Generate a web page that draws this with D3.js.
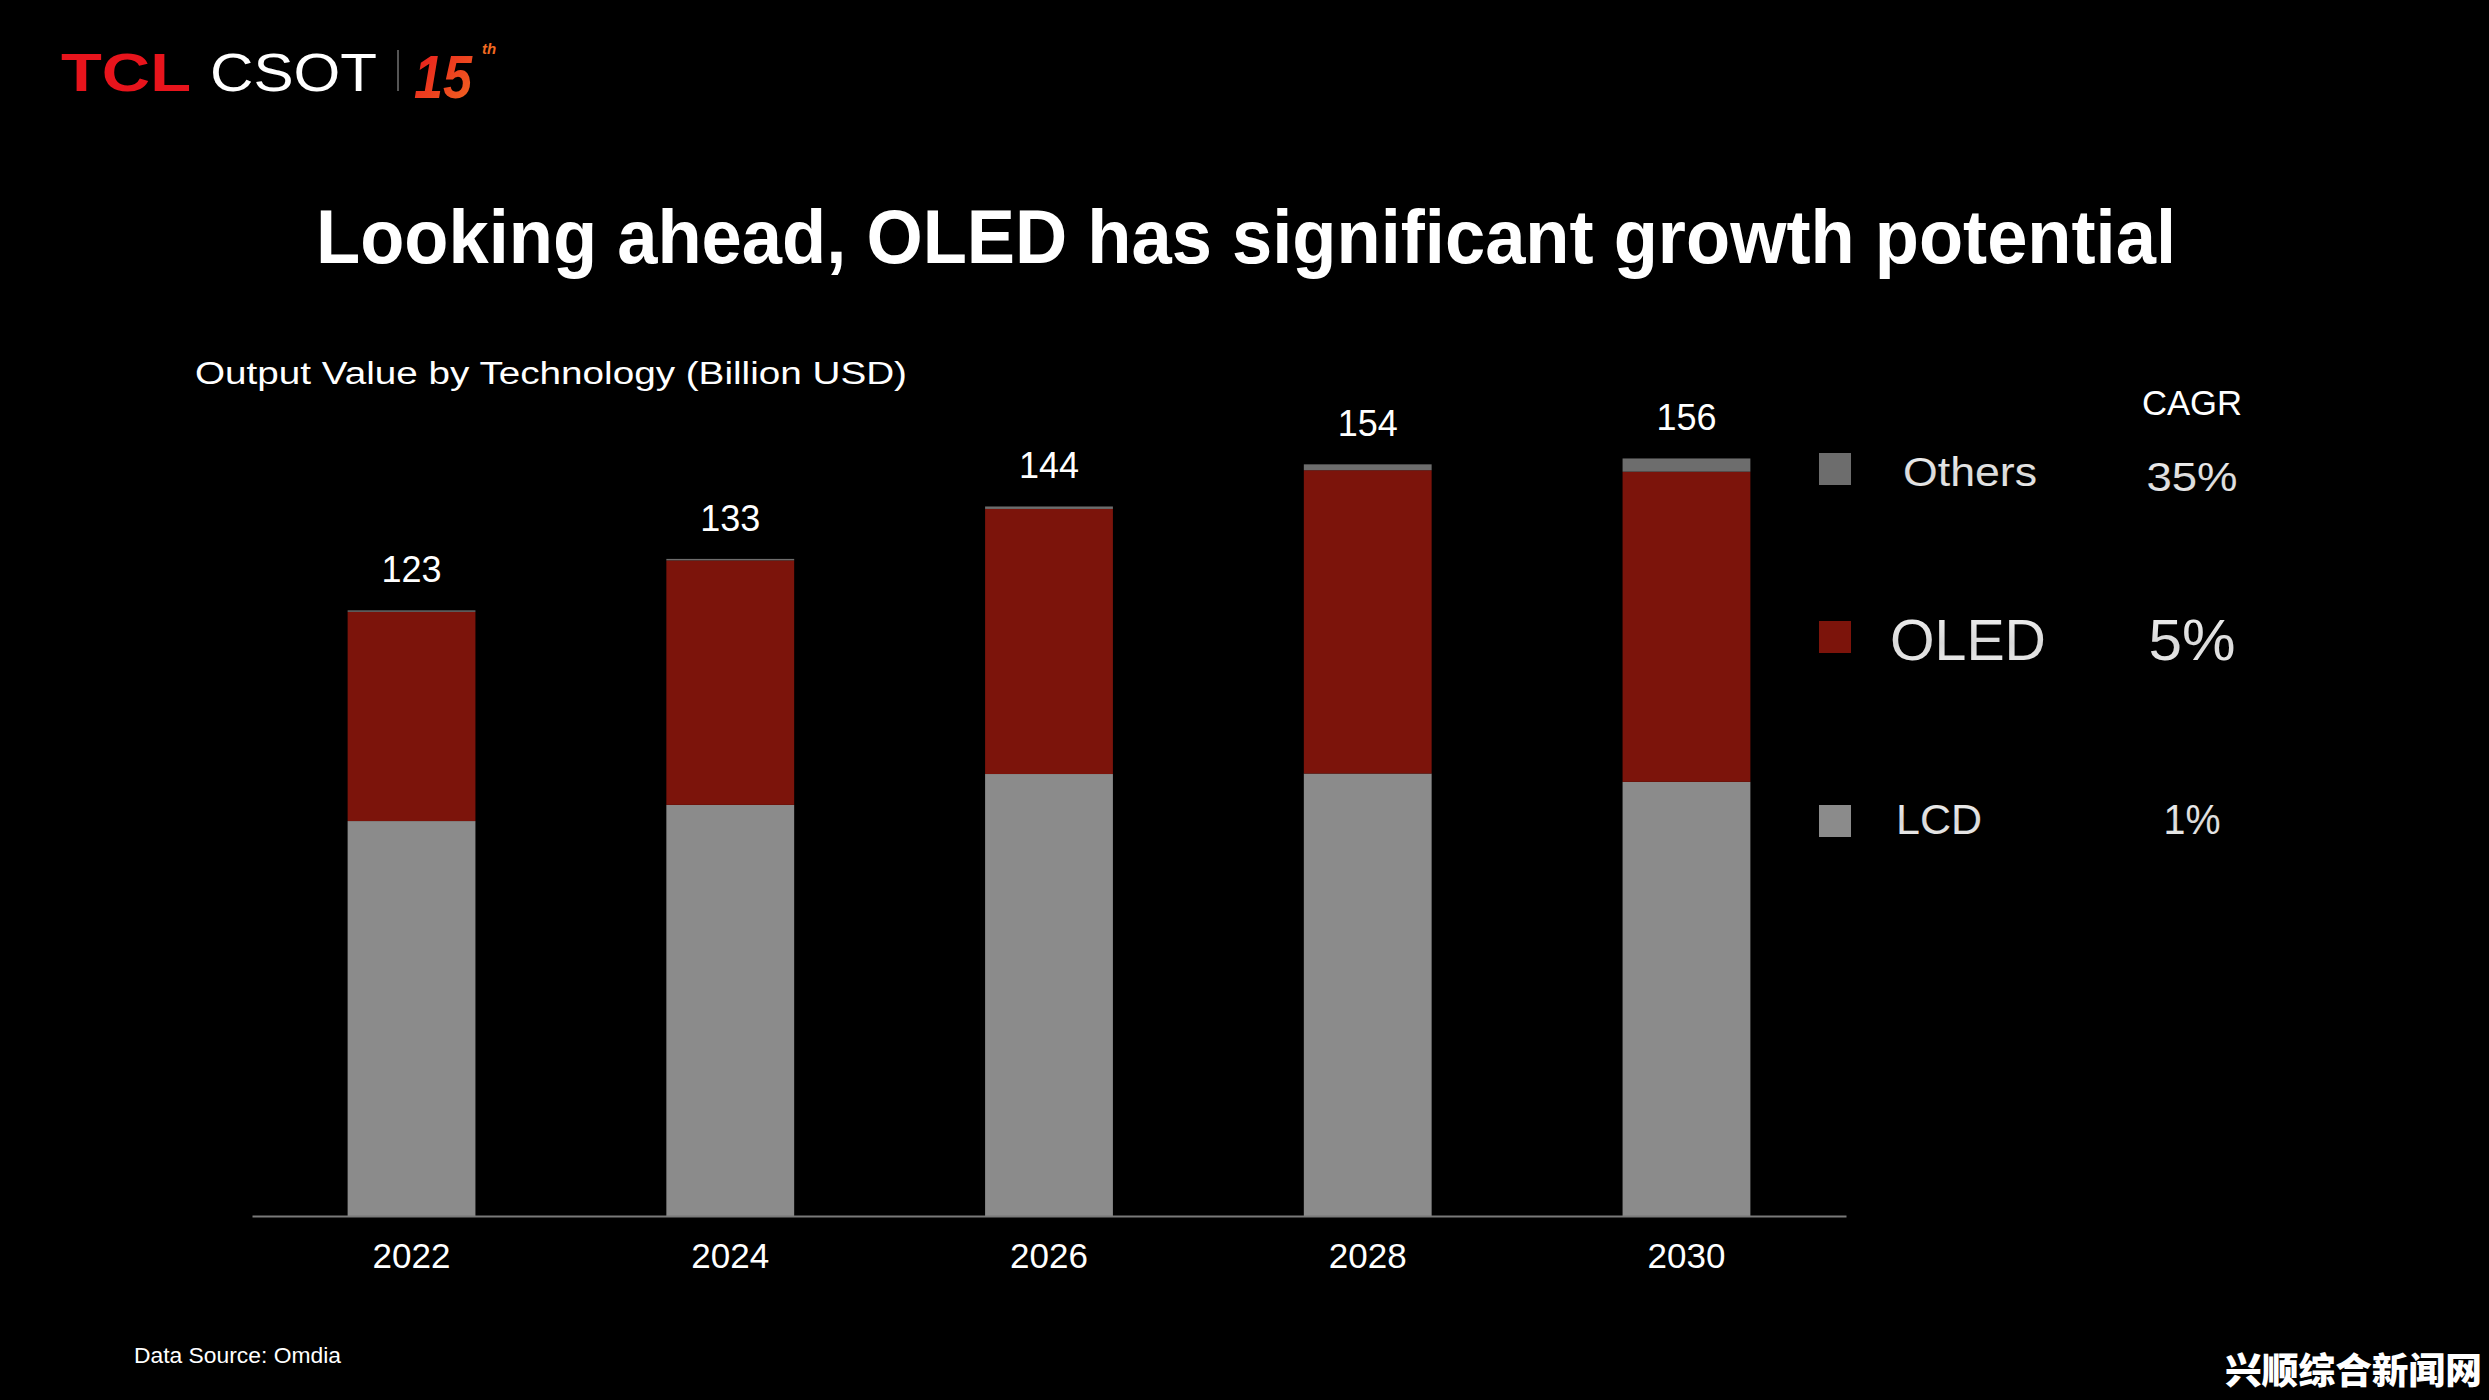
<!DOCTYPE html>
<html>
<head>
<meta charset="utf-8">
<script src="https://cdn.jsdelivr.net/npm/d3@7"></script>
<style>
  html, body { margin: 0; padding: 0; background: #000; }
  svg { display: block; }
</style>
</head>
<body>
<svg id="chart" width="2489" height="1400"></svg>
<script>
// ---- data ----
const years = ["2022", "2024", "2026", "2028", "2030"];
const lcdValues = [80.6, 83.9, 90.2, 90.3, 88.6];
const oledValues = [42.7, 49.9, 54.1, 61.9, 63.3];
const otherValues = [0.3, 0.3, 0.5, 1.2, 2.7];
const totalLabels = [123, 133, 144, 154, 156];
const seriesKeys = ["LCD", "OLED", "Others"];
const legendOrder = ["Others", "OLED", "LCD"];
const cagrLabels = ["35%", "5%", "1%"];

// ---- styles / layout ----
const colors = { LCD: "#8b8b8b", OLED: "#7c140b", Others: "#6d6d6d" };
const W = 2489, H = 1400;
const svg = d3.select("#chart");
const fontLatin = "'Liberation Sans', Arial, Helvetica, sans-serif";

svg.append("rect").attr("width", W).attr("height", H).attr("fill", "#000");

const defs = svg.append("defs");
const silver = defs.append("linearGradient").attr("id", "silver")
  .attr("x1", 0).attr("y1", 0).attr("x2", 0).attr("y2", 1);
silver.append("stop").attr("offset", "0%").attr("stop-color", "#f4f4f4");
silver.append("stop").attr("offset", "55%").attr("stop-color", "#d9d9d9");
silver.append("stop").attr("offset", "100%").attr("stop-color", "#f0f0f0");
const orange = defs.append("linearGradient").attr("id", "orange")
  .attr("x1", 0).attr("y1", 0).attr("x2", 1).attr("y2", 1);
orange.append("stop").attr("offset", "0%").attr("stop-color", "#e8141c");
orange.append("stop").attr("offset", "100%").attr("stop-color", "#f26a21");

// ---- logo ----
const logo = svg.append("g");
logo.append("text").attr("x", 61).attr("y", 91)
  .attr("font-family", fontLatin).attr("font-weight", 900).attr("font-size", 54)
  .attr("fill", "#e8141c").attr("textLength", 130).attr("lengthAdjust", "spacingAndGlyphs")
  .text("TCL");
logo.append("text").attr("x", 210).attr("y", 91)
  .attr("font-family", fontLatin).attr("font-weight", 400).attr("font-size", 54)
  .attr("fill", "#ffffff").attr("textLength", 167).attr("lengthAdjust", "spacingAndGlyphs")
  .text("CSOT");
logo.append("line").attr("x1", 398).attr("x2", 398).attr("y1", 50).attr("y2", 91)
  .attr("stroke", "#555").attr("stroke-width", 2);
logo.append("text").attr("x", 414).attr("y", 98)
  .attr("font-family", fontLatin).attr("font-weight", 700).attr("font-style", "italic")
  .attr("font-size", 62).attr("fill", "url(#orange)")
  .attr("textLength", 58).attr("lengthAdjust", "spacingAndGlyphs").text("15");
logo.append("text").attr("x", 482).attr("y", 54)
  .attr("font-family", fontLatin).attr("font-weight", 700).attr("font-style", "italic")
  .attr("font-size", 15).attr("fill", "#f26a21").text("th");

// ---- titles ----
svg.append("text").attr("x", 316).attr("y", 263)
  .attr("font-family", fontLatin).attr("font-weight", 700).attr("font-size", 76)
  .attr("fill", "#ffffff").attr("textLength", 1860).attr("lengthAdjust", "spacingAndGlyphs")
  .text("Looking ahead, OLED has significant growth potential");

svg.append("text").attr("x", 195).attr("y", 384)
  .attr("font-family", fontLatin).attr("font-size", 31)
  .attr("fill", "#ffffff").attr("textLength", 712).attr("lengthAdjust", "spacingAndGlyphs")
  .text("Output Value by Technology (Billion USD)");

// ---- scales ----
const x = d3.scaleBand().domain(years).range([252, 1846]).paddingInner(0.599).paddingOuter(0.3);
const y = d3.scaleLinear().domain([0, 160]).range([1216, 432]);

const rows = years.map((yr, i) => ({
  year: yr, LCD: lcdValues[i], OLED: oledValues[i], Others: otherValues[i], total: totalLabels[i]
}));
const stacked = d3.stack().keys(seriesKeys)(rows);

// ---- bars ----
const gBars = svg.append("g");
gBars.selectAll("g.series").data(stacked).join("g")
  .attr("class", "series")
  .attr("fill", d => colors[d.key])
  .selectAll("rect").data(d => d).join("rect")
  .attr("x", d => x(d.data.year))
  .attr("width", x.bandwidth())
  .attr("y", d => y(d[1]))
  .attr("height", d => y(d[0]) - y(d[1]));

// ---- value labels ----
const topSeries = stacked[stacked.length - 1];
svg.append("g").selectAll("text").data(topSeries).join("text")
  .attr("x", d => x(d.data.year) + x.bandwidth() / 2)
  .attr("y", d => y(d[1]) - 28)
  .attr("text-anchor", "middle")
  .attr("font-family", fontLatin).attr("font-size", 36).attr("fill", "#ffffff")
  .text(d => d.data.total);

// ---- x axis ----
const xAxis = svg.append("g").attr("transform", "translate(0,1216)")
  .call(d3.axisBottom(x).tickSize(0).tickPadding(52));
xAxis.select(".domain").attr("stroke", "#7a7a7a").attr("stroke-width", 2);
xAxis.selectAll(".tick text").attr("font-family", fontLatin).attr("font-size", 35)
  .attr("fill", "#ffffff").attr("dy", 0);

// ---- legend ----
const legendLayout = [
  { sq: 453, base: 486, size: 41, tx: 1903, tw: 134, cBase: 491, cSize: 41, cw: 91 },
  { sq: 621, base: 660, size: 57, tx: 1890, tw: 156, cBase: 660, cSize: 57, cw: 87 },
  { sq: 805, base: 834, size: 43, tx: 1896, tw: 86, cBase: 834, cSize: 43, cw: 57 }
];
const legend = svg.append("g");
legend.append("text").attr("x", 2142).attr("y", 415)
  .attr("font-family", fontLatin).attr("font-size", 35).attr("fill", "#ffffff")
  .attr("textLength", 100).attr("lengthAdjust", "spacingAndGlyphs").text("CAGR");
const li = legend.selectAll("g.item").data(legendOrder).join("g").attr("class", "item");
li.append("rect").attr("x", 1819).attr("y", (d, i) => legendLayout[i].sq)
  .attr("width", 32).attr("height", 32).attr("fill", d => colors[d]);
li.append("text").attr("x", (d, i) => legendLayout[i].tx).attr("y", (d, i) => legendLayout[i].base)
  .attr("font-family", fontLatin).attr("font-size", (d, i) => legendLayout[i].size)
  .attr("textLength", (d, i) => legendLayout[i].tw).attr("lengthAdjust", "spacingAndGlyphs")
  .attr("fill", "url(#silver)").text(d => d);
li.append("text").attr("x", (d, i) => 2192 - legendLayout[i].cw / 2).attr("y", (d, i) => legendLayout[i].cBase)
  .attr("font-family", fontLatin).attr("font-size", (d, i) => legendLayout[i].cSize)
  .attr("textLength", (d, i) => legendLayout[i].cw).attr("lengthAdjust", "spacingAndGlyphs")
  .attr("fill", "url(#silver)").text((d, i) => cagrLabels[i]);

// ---- footer ----
svg.append("text").attr("x", 134).attr("y", 1363)
  .attr("font-family", fontLatin).attr("font-size", 22).attr("fill", "#ffffff")
  .attr("textLength", 207).attr("lengthAdjust", "spacingAndGlyphs")
  .text("Data Source: Omdia");
svg.append("text").attr("x", 2225).attr("y", 1384)
  .attr("font-family", "'Noto Sans CJK SC', sans-serif").attr("font-weight", 900)
  .attr("font-size", 36).attr("fill", "#ffffff")
  .attr("textLength", 257).attr("lengthAdjust", "spacingAndGlyphs")
  .text("兴顺综合新闻网");
</script>
</body>
</html>
